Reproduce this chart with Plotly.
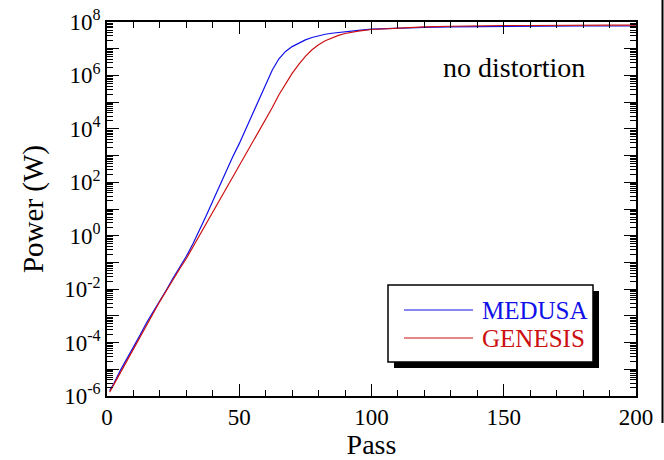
import plotly.graph_objects as go

# ---- data ----
medusa_pass = [1, 2.5, 5, 7.5, 10, 12.5, 15, 17.5, 20, 22.5, 25, 27.5, 30, 32.5, 35, 37.5,
               40, 42.5, 45, 47.5, 50, 52.5, 55, 57.5, 60, 62.5, 65, 67.5, 70, 72.5, 75,
               77.5, 80, 82.5, 85, 87.5, 90, 95, 100, 110, 120, 130, 140, 150, 160, 170,
               180, 190, 200]
medusa_power = [1.6e-6, 2.8e-6, 8.9e-6, 2.4e-5, 7.1e-5, 1.9e-4, 5.6e-4, 1.4e-3, 3.8e-3,
                9.5e-3, 2.6e-2, 6.3e-2, 0.17, 0.50, 1.6, 5.6, 20, 71, 280, 890, 2.8e3,
                1.0e4, 3.5e4, 1.4e5, 5.0e5, 1.6e6, 4.2e6, 7.9e6, 1.2e7, 1.66e7, 2.14e7,
                2.63e7, 3.09e7, 3.47e7, 3.80e7, 4.07e7, 4.37e7, 4.90e7, 5.37e7, 5.89e7,
                6.31e7, 6.61e7, 6.76e7, 6.92e7, 6.92e7, 7.08e7, 7.08e7, 7.08e7, 7.08e7]

genesis_pass = medusa_pass
genesis_power = [1.4e-6, 2.6e-6, 7.9e-6, 2.2e-5, 6.3e-5, 1.7e-4, 5.0e-4, 1.3e-3, 3.5e-3,
                 8.9e-3, 2.4e-2, 5.8e-2, 0.14, 0.38, 1.05, 2.8, 7.6, 20, 56, 150, 420,
                 1.1e3, 2.8e3, 7.6e3, 2.2e4, 6.3e4, 1.9e5, 5.0e5, 1.2e6, 2.6e6, 5.2e6,
                 9.1e6, 1.41e7, 2.0e7, 2.57e7, 3.16e7, 3.72e7, 4.57e7, 5.25e7, 6.03e7,
                 6.61e7, 6.92e7, 7.24e7, 7.41e7, 7.41e7, 7.59e7, 7.59e7, 7.59e7, 7.59e7]

x_ticks = [0, 50, 100, 150, 200]
y_decades = [-6, -5, -4, -3, -2, -1, 0, 1, 2, 3, 4, 5, 6, 7, 8]
series_names = ["MEDUSA", "GENESIS"]
series_colors = ["#1010e8", "#cc1010"]

FONT = "Liberation Serif"

# ---- layout geometry in pixels ----
W, H = 664, 460
L, R, T, B = 107, 636, 22, 396


def px(x):
    return (x - L) / (R - L)


def py(y):
    return 1 - (y - T) / (B - T)


fig = go.Figure()
fig.add_trace(go.Scatter(x=medusa_pass, y=medusa_power, mode="lines", name=series_names[0],
                         line=dict(color=series_colors[0], width=1.2), showlegend=False))
fig.add_trace(go.Scatter(x=genesis_pass, y=genesis_power, mode="lines", name=series_names[1],
                         line=dict(color=series_colors[1], width=1.2), showlegend=False))

y_tickvals = [10.0 ** d for d in y_decades]
y_ticktext = [("10<sup>%d</sup>" % d) if d % 2 == 0 else "" for d in y_decades]

fig.update_layout(
    width=W, height=H,
    margin=dict(l=L, r=W - R, t=T, b=H - B, autoexpand=False),
    paper_bgcolor="white", plot_bgcolor="white",
    font=dict(family=FONT, size=22, color="black"),
    xaxis=dict(range=[0, 200], tickvals=x_ticks, ticks="inside", ticklen=12, tickwidth=1.2,
               tickcolor="black", showline=True, linecolor="black", linewidth=1.5,
               mirror="allticks", showgrid=False, zeroline=False, automargin=False,
               tickfont=dict(family=FONT, size=23),
               minor=dict(dtick=10, ticks="inside", ticklen=6, tickwidth=1, tickcolor="black"),
               title=dict(text="Pass", font=dict(family=FONT, size=28), standoff=7)),
    yaxis=dict(type="log", range=[-6, 8], tickvals=y_tickvals, ticktext=y_ticktext,
               ticks="inside", ticklen=12, tickwidth=1.2, tickcolor="black",
               showline=True, linecolor="black", linewidth=1.5, mirror="allticks",
               showgrid=False, zeroline=False, automargin=False,
               tickfont=dict(family=FONT, size=23),
               minor=dict(dtick="D1", ticks="inside", ticklen=6, tickwidth=1, tickcolor="black"),
               title=dict(text="Power (W)", font=dict(family=FONT, size=29), standoff=12)),
)

# annotation
fig.add_annotation(x=px(587), y=py(67), xref="paper", yref="paper", text="no distortion",
                   showarrow=False, xanchor="right", yanchor="middle",
                   font=dict(family=FONT, size=28, color="black"))

# manual legend with drop shadow
shapes = [
    dict(type="rect", xref="paper", yref="paper", x0=px(394), x1=px(599), y0=py(368), y1=py(291),
         fillcolor="black", line=dict(width=0), layer="above"),
    dict(type="rect", xref="paper", yref="paper", x0=px(388), x1=px(593), y0=py(362), y1=py(285),
         fillcolor="white", line=dict(color="black", width=1.5), layer="above"),
    dict(type="line", xref="paper", yref="paper", x0=px(404), x1=px(473), y0=py(310), y1=py(310),
         line=dict(color=series_colors[0], width=1.2), layer="above"),
    dict(type="line", xref="paper", yref="paper", x0=px(404), x1=px(473), y0=py(338), y1=py(338),
         line=dict(color=series_colors[1], width=1.2), layer="above"),
    # frame line at right edge of the image
    dict(type="line", xref="paper", yref="paper", x0=px(662.5), x1=px(662.5), y0=py(0), y1=py(423),
         line=dict(color="black", width=2), layer="above"),
]
fig.update_layout(shapes=shapes)
for name, color, yy in zip(series_names, series_colors, [310, 338]):
    fig.add_annotation(x=px(480), y=py(yy), xref="paper", yref="paper", text=name,
                       showarrow=False, xanchor="left", yanchor="middle",
                       font=dict(family=FONT, size=25, color=color))

fig.write_html("out.html")
